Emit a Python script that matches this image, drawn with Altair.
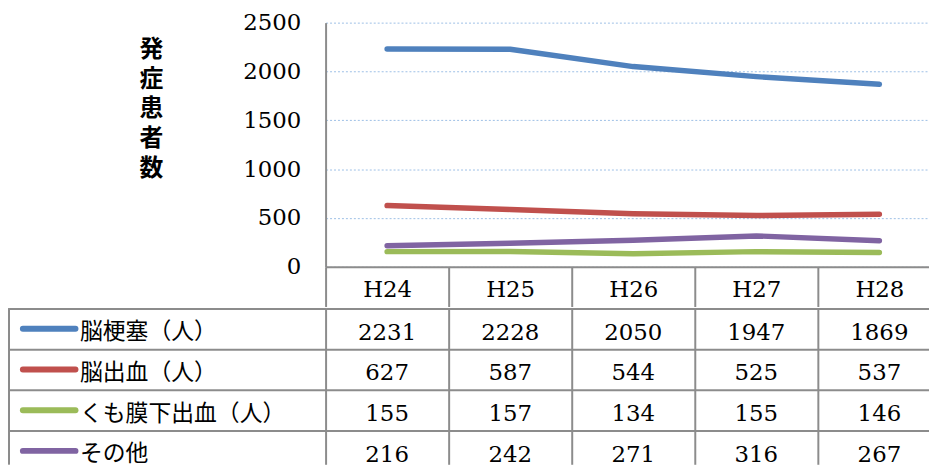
import json
import altair as alt
import pandas as pd

years = ["H24", "H25", "H26", "H27", "H28"]
series = ["脳梗塞（人）", "脳出血（人）", "くも膜下出血（人）", "その他"]
infarction = [2231, 2228, 2050, 1947, 1869]
hemorrhage = [627, 587, 544, 525, 537]
subarachnoid = [155, 157, 134, 155, 146]
other = [216, 242, 271, 316, 267]
colors = ["#4F81BD", "#C0504D", "#9BBB59", "#8064A2"]
y_ticks = [0, 500, 1000, 1500, 2000, 2500]
y_title = ["発", "症", "患", "者", "数"]

rows = []
for r, (name, vals) in enumerate(zip(series, [infarction, hemorrhage,
                                              subarachnoid, other])):
    for c, (yr, v) in enumerate(zip(years, vals)):
        rows.append({"series": name, "year": yr, "value": v,
                     "col": c, "row": r})
df = pd.DataFrame(rows)
legend_df = pd.DataFrame({"series": series, "row": list(range(len(series)))})

SERIF = "DejaVu Serif"
CJK = "Noto Sans CJK JP"
GRAY = "#8c8c8c"
GRID = "#9DBFE6"
HEADER = 40        # header row height
COL = 124          # column width
ROW = 41           # table row height
W = 608            # visible plot width (last column runs off the page)
H_TAB = 157        # visible table height (last row runs off the page)

col_edges = list(range(len(years)))
row_edges = list(range(len(series)))
year_expr = json.dumps(years) + "[datum.value]"
series_expr = json.dumps(series, ensure_ascii=False) + "[datum.value]"

x_scale = alt.Scale(domain=[0, W / COL], nice=False, zero=False)
color = alt.Color("series:N", sort=series,
                  scale=alt.Scale(domain=series, range=colors), legend=None)

# ---- line chart -------------------------------------------------------
x_top = alt.X("xc:Q", scale=x_scale,
              axis=alt.Axis(title=None, orient="bottom", values=col_edges,
                            labelExpr=year_expr, labelOffset=COL / 2,
                            labelFlush=False, labelOverlap=False,
                            labelAngle=0, domainColor=GRAY, domainWidth=2,
                            tickSize=HEADER, tickColor=GRAY, tickWidth=2,
                            labelFont=SERIF, labelFontSize=23,
                            labelColor="black", labelBaseline="middle",
                            labelPadding=-17, grid=False))
y_top = alt.Y("value:Q", scale=alt.Scale(domain=[0, 2500]),
              axis=alt.Axis(values=y_ticks, format="d", title=y_title,
                            titleAngle=0, titleFont=CJK, titleFontSize=24,
                            titleFontWeight="bold", titleLineHeight=30,
                            titleX=-176, titleY=15, titleAlign="center",
                            titleBaseline="top", titleColor="black",
                            labelFont=SERIF, labelFontSize=23,
                            labelColor="black", labelPadding=25, ticks=False,
                            domainColor=GRAY, domainWidth=2,
                            gridColor=GRID, gridDash=[2, 2], gridWidth=1))

lines = alt.Chart(df).transform_calculate(
    xc="datum.col + 0.5"
).mark_line(strokeWidth=5.5, strokeCap="round", strokeJoin="round").encode(
    x=x_top, y=y_top, color=color, detail="series:N"
).properties(width=W, height=246)

# ---- data table -------------------------------------------------------
y_scale = alt.Scale(domain=[0, H_TAB / ROW], nice=False, zero=False,
                    reverse=True)
x_tab = alt.X("xc:Q", scale=x_scale,
              axis=alt.Axis(title=None, orient="bottom", values=col_edges,
                            labels=False, ticks=False, domain=False,
                            grid=True, gridColor=GRAY, gridWidth=2))
y_tab = alt.Y("yc:Q", scale=y_scale,
              axis=alt.Axis(title=None, values=row_edges,
                            labelExpr=series_expr, labelOffset=ROW / 2 + 3,
                            labelFlush=False, labelOverlap=False,
                            tickSize=319, tickColor=GRAY, tickWidth=2,
                            domain=False, grid=True, gridColor=GRAY,
                            gridWidth=2, labelAlign="left",
                            labelPadding=-71, labelLimit=0, labelFont=CJK,
                            labelFontSize=23, labelColor="black",
                            labelBaseline="middle"))

cells = alt.Chart(df).transform_calculate(
    xc="datum.col + 0.5", yc="datum.row + 0.5"
).mark_text(font=SERIF, fontSize=23, color="black", baseline="middle",
            dy=4, clip=True).encode(x=x_tab, y=y_tab, text="value:Q")
swatches = alt.Chart(legend_df).transform_calculate(
    yc="datum.row + 0.5"
).mark_rule(strokeWidth=6, strokeCap="round").encode(
    x=alt.value(-305), x2=alt.value(-252), y=y_tab, color=color)
border = alt.Chart(legend_df).mark_rule(color=GRAY, strokeWidth=2).encode(
    x=alt.value(-319))

table = alt.layer(cells, swatches, border).properties(width=W, height=H_TAB)

chart = alt.vconcat(lines, table, spacing=0).properties(
    padding={"left": 0, "top": 2, "right": 0, "bottom": 0}
).configure_view(stroke=None)

chart.save("out.html", embed_options={"renderer": "svg", "actions": False})
